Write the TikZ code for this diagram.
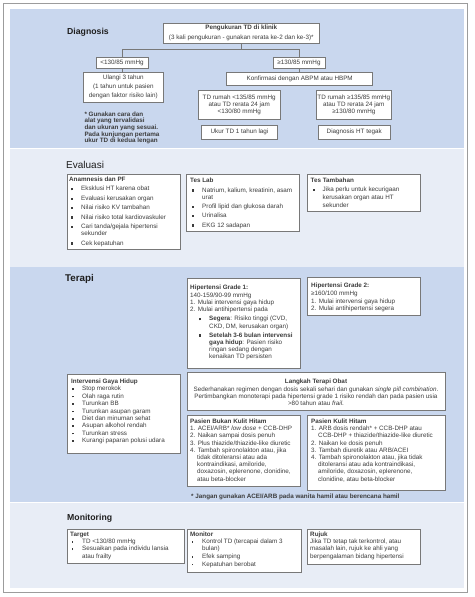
\documentclass[tikz,border=0pt]{standalone}
\usepackage{fontspec}
\setmainfont{Liberation Sans}
\usetikzlibrary{shadows}
\definecolor{panelD}{HTML}{C9D7EE}
\definecolor{panelL}{HTML}{E8EDF6}
\definecolor{bordergray}{HTML}{787878}
\definecolor{textgray}{HTML}{3C3C3C}
\definecolor{titlegray}{HTML}{1E1E1E}
\definecolor{framegray}{HTML}{9C9C9C}
\newcommand{\fs}{\fontsize{6.3}{7.2}\selectfont}
\newcommand{\bq}{\makebox[12pt][l]{\hspace{2pt}\rule[0.5pt]{2.2pt}{2.2pt}}}
\newcommand{\bs}{\makebox[12pt][l]{\hspace{1.5pt}\rule[0.8pt]{1.6pt}{1.6pt}}}
\newcommand{\bsn}{\makebox[11pt][l]{\hspace{1pt}\rule[0.8pt]{1.6pt}{1.6pt}}}
\newcommand{\bi}{\hspace*{12pt}}
\begin{document}
\begin{tikzpicture}[x=1pt,y=-1pt,
  box/.style={draw=bordergray, fill=white, line width=0.7pt, inner sep=0pt,
    drop shadow={shadow xshift=0.7pt, shadow yshift=-0.7pt, opacity=0.35, fill=black}},
  dbox/.style={box, align=center, font=\fs, text=textgray},
  txt/.style={inner sep=0pt, align=left, font=\fs, text=textgray},
  sect/.style={inner sep=0pt, anchor=base west, text=titlegray},
  conn/.style={draw=bordergray, line width=0.7pt}]
\useasboundingbox (0,0) rectangle (474,597);
% frame and panels
\fill[white] (0,0) rectangle (474,597);
\draw[framegray, line width=1.3pt] (3.5,3.5) rectangle (467.5,592.5);
\fill[panelD] (10,9) rectangle (464,148);
\fill[panelL] (10,148.6) rectangle (464,266.6);
\fill[panelD] (10,267.2) rectangle (464,502);
\fill[panelL] (10,502.6) rectangle (464,588);

% ---------------- Diagnosis ----------------
\node[sect, font=\fontsize{8.7}{10}\selectfont\bfseries] (tdiag) at (67,34) {Diagnosis};
\node[dbox, minimum width=156pt, minimum height=20pt] (pg) at (241.3,33)
  {\textbf{Pengukuran TD di klinik}\\[2.3pt](3 kali pengukuran - gunakan rerata ke-2 dan ke-3)*};
\node[dbox, minimum width=52pt, minimum height=11.5pt] (lt) at (122,62.8) {<130/85 mmHg};
\node[dbox, minimum width=52pt, minimum height=11.5pt] (ge) at (299,62.8) {≥130/85 mmHg};
\node[dbox, minimum width=80pt, minimum height=30pt] (ul) at (123.3,87)
  {Ulangi 3 tahun\\[1.8pt](1 tahun untuk pasien\\[1.8pt]dengan faktor risiko lain)};
\node[dbox, minimum width=146pt, minimum height=13pt] (kf) at (299.7,78.5) {Konfirmasi dengan ABPM atau HBPM};
\node[dbox, minimum width=81.7pt, minimum height=28.6pt] (tr1) at (239.2,105)
  {TD rumah <135/85 mmHg\\atau TD rerata 24 jam\\<130/80 mmHg};
\node[dbox, minimum width=75.7pt, minimum height=28.6pt] (tr2) at (353.8,105)
  {TD rumah ≥135/85 mmHg\\atau TD rerata 24 jam\\≥130/80 mmHg};
\node[dbox, minimum width=75.6pt, minimum height=14pt] (uk) at (239.5,132) {Ukur TD 1 tahun lagi};
\node[dbox, minimum width=71.7pt, minimum height=14pt] (dx) at (354.2,132) {Diagnosis HT tegak};
\coordinate (br1) at (0,49.3);
\draw[conn] (pg.south) -- (pg.south |- br1);
\draw[conn] (lt.north) -- (lt.north |- br1) -- (ge.north |- br1) -- (ge.north);
\draw[conn] (lt.south) -- (lt.south |- ul.north);
\draw[conn] (ge.south) -- (ge.south |- kf.north);
\node[txt, anchor=north west, font=\fontsize{6.3}{6.7}\selectfont\bfseries] (note) at (84.3,111.2)
  {\strut* Gunakan cara dan\\alat yang tervalidasi\\dan ukuran yang sesuai.\\Pada kunjungan pertama\\ukur TD di kedua lengan};

% ---------------- Evaluasi ----------------
\node[sect, font=\fontsize{10}{12}\selectfont] (teval) at (66,168.5) {Evaluasi};
\node[box, anchor=north west, minimum width=113pt, minimum height=75pt] (anam) at (67,174) {};
\node[txt, anchor=north west] (anamT) at (69,176.2)
  {\strut\textbf{Anamnesis dan PF}\\[2.2pt]
   \bq Eksklusi HT karena obat\\[2.2pt]
   \bq Evaluasi kerusakan organ\\[2.2pt]
   \bq Nilai risiko KV tambahan\\[2.2pt]
   \bq Nilai risiko total kardiovaskuler\\[2.2pt]
   \bq Cari tanda/gejala hipertensi\\
   \bi sekunder\\[2.2pt]
   \bq Cek kepatuhan};
\node[box, anchor=north west, minimum width=113pt, minimum height=57pt] (lab) at (186,174) {};
\node[txt, anchor=north west] (labT) at (190,177.2)
  {\strut\textbf{Tes Lab}\\[2.5pt]
   \bq Natrium, kalium, kreatinin, asam\\
   \bi urat\\[1.8pt]
   \bq Profil lipid dan glukosa darah\\[1.8pt]
   \bq Urinalisa\\[2.5pt]
   \bq EKG 12 sadapan};
\node[box, anchor=north west, minimum width=113pt, minimum height=37pt] (tamb) at (307,174) {};
\node[txt, anchor=north west] (tambT) at (310.5,177.2)
  {\strut\textbf{Tes Tambahan}\\[1.8pt]
   \bq Jika perlu untuk kecurigaan\\[0.8pt]
   \bi kerusakan organ atau HT\\[0.8pt]
   \bi sekunder};

% ---------------- Terapi ----------------
\node[sect, font=\fontsize{9.8}{12}\selectfont\bfseries] (tter) at (65,281.5) {Terapi};
\node[box, anchor=north west, minimum width=113pt, minimum height=90pt] (g1) at (187,278) {};
\node[txt, anchor=north west] (g1T) at (190,284.2)
  {\strut\textbf{Hipertensi Grade 1:}\\[0.8pt]
   140-159/90-99 mmHg\\
   1. Mulai intervensi gaya hidup\\
   2. Mulai antihipertensi pada\\[1.8pt]
   \hspace*{7pt}\bq\textbf{Segera}: Risiko tinggi (CVD,\\
   \hspace*{19pt}CKD, DM, kerusakan organ)\\[1.8pt]
   \hspace*{7pt}\bq\textbf{Setelah 3-6 bulan intervensi}\\
   \hspace*{19pt}\textbf{gaya hidup}: Pasien risiko\\
   \hspace*{19pt}ringan sedang dengan\\
   \hspace*{19pt}kenaikan TD persisten};
\node[box, anchor=north west, minimum width=113pt, minimum height=38pt] (g2) at (307,277) {};
\node[txt, anchor=north west] (g2T) at (311,282.2)
  {\strut\textbf{Hipertensi Grade 2:}\\[0.8pt]
   ≥160/100 mmHg\\[0.8pt]
   1. Mulai intervensi gaya hidup\\
   2. Mulai antihipertensi segera};
\node[box, anchor=north west, minimum width=113pt, minimum height=79pt] (igh) at (67,374) {};
\node[txt, anchor=north west] (ighT) at (71,378.2)
  {\strut\textbf{Intervensi Gaya Hidup}\\[0.2pt]
   \bsn Stop merokok\\[0.2pt]
   \bsn Olah raga rutin\\[0.2pt]
   \bsn Turunkan BB\\[0.2pt]
   \bsn Turunkan asupan garam\\[0.2pt]
   \bsn Diet dan minuman sehat\\[0.2pt]
   \bsn Asupan alkohol rendah\\[0.2pt]
   \bsn Turunkan stress\\[0.2pt]
   \bsn Kurangi paparan polusi udara};
\node[box, anchor=north west, minimum width=258pt, minimum height=38pt] (lto) at (187,372) {};
\node[txt, align=center] (ltoT) at (316,392.5)
  {\textbf{Langkah Terapi Obat}\\[0.8pt]
   Sederhanakan regimen dengan dosis sekali sehari dan gunakan \textit{single pill combination}.\\
   Pertimbangkan monoterapi pada hipertensi grade 1 risiko rendah dan pada pasien usia\\
   >80 tahun atau \textit{frail}.};
\node[box, anchor=north west, minimum width=113pt, minimum height=71pt] (pbk) at (187,415) {};
\node[txt, anchor=north west] (pbkT) at (190,418.2)
  {\strut\textbf{Pasien Bukan Kulit Hitam}\\
   1. ACEI/ARB* \textit{low dose} + CCB-DHP\\
   2. Naikan sampai dosis penuh\\
   3. Plus thiazide/thiazide-like diuretic\\
   4. Tambah spironolakton atau, jika\\
   \hspace*{7pt}tidak ditoleransi atau ada\\
   \hspace*{7pt}kontraindikasi, amiloride,\\
   \hspace*{7pt}doxazosin, eplerenone, clonidine,\\
   \hspace*{7pt}atau beta-blocker};
\node[box, anchor=north west, minimum width=138pt, minimum height=75pt] (pkh) at (307,415) {};
\node[txt, anchor=north west] (pkhT) at (311,418.2)
  {\strut\textbf{Pasien Kulit Hitam}\\
   1. ARB dosis rendah* + CCB-DHP atau\\
   \hspace*{7pt}CCB-DHP + thiazide/thiazide-like diuretic\\
   2. Naikan ke dosis penuh\\
   3. Tambah diuretik atau ARB/ACEI\\
   4. Tambah spironolakton atau, jika tidak\\
   \hspace*{7pt}ditoleransi atau ada kontraindikasi,\\
   \hspace*{7pt}amiloride, doxazosin, eplerenone,\\
   \hspace*{7pt}clonidine, atau beta-blocker};
\node[txt, anchor=west, font=\fs\bfseries] (foot) at (191,497)
  {* Jangan gunakan ACEI/ARB pada wanita hamil atau berencana hamil};

% ---------------- Monitoring ----------------
\node[sect, font=\fontsize{8.7}{10}\selectfont\bfseries] (tmon) at (67,520.5) {Monitoring};
\node[box, anchor=north west, minimum width=117pt, minimum height=34pt] (tgt) at (67,529) {};
\node[txt, anchor=north west] (tgtT) at (70,531.2)
  {\strut\textbf{Target}\\
   \bs TD <130/80 mmHg\\
   \bs Sesuaikan pada individu lansia\\
   \bi atau frailty};
\node[box, anchor=north west, minimum width=114pt, minimum height=43pt] (mon) at (187,529) {};
\node[txt, anchor=north west] (monT) at (190,531.2)
  {\strut\textbf{Monitor}\\
   \bs Kontrol TD (tercapai dalam 3\\
   \bi bulan)\\[0.8pt]
   \bs Efek samping\\
   \bs Kepatuhan berobat};
\node[box, anchor=north west, minimum width=113pt, minimum height=35pt] (ruj) at (307,529) {};
\node[txt, anchor=north west] (rujT) at (310,531.2)
  {\strut\textbf{Rujuk}\\
   Jika TD tetap tak terkontrol, atau\\
   masalah lain, rujuk ke ahli yang\\
   berpengalaman bidang hipertensi};
\end{tikzpicture}
\end{document}
